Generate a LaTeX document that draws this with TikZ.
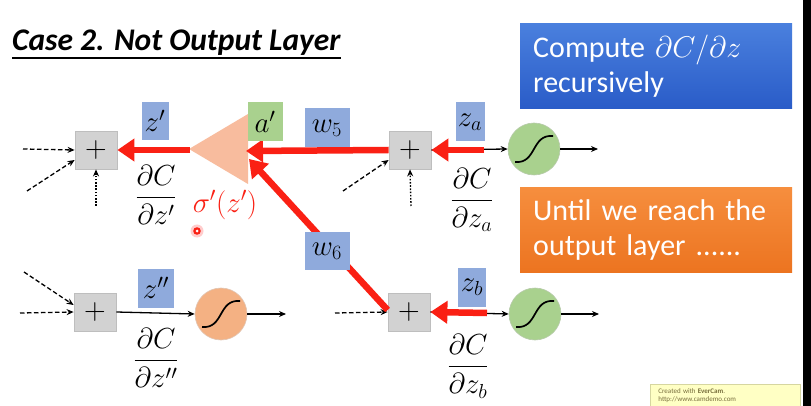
\RequirePackage{fix-cm}
\documentclass[tikz,border=0pt]{standalone}
\usepackage{amsmath}
\usepackage{fontspec}
\setmainfont{Carlito}
\usetikzlibrary{arrows.meta}
\definecolor{redA}{RGB}{250,32,20}
\definecolor{lblue}{RGB}{143,170,220}
\definecolor{lgreen}{RGB}{169,209,142}
\definecolor{lorange}{RGB}{244,177,131}
\definecolor{triC}{RGB}{248,188,158}
\definecolor{boxG}{RGB}{210,210,210}
\definecolor{boxGb}{RGB}{190,190,190}
\definecolor{bTop}{RGB}{74,128,222}
\definecolor{bBot}{RGB}{42,92,200}
\definecolor{oTop}{RGB}{246,142,62}
\definecolor{oBot}{RGB}{236,116,32}
\definecolor{wmY}{RGB}{255,255,196}
\definecolor{wmB}{RGB}{214,214,160}
\definecolor{wmT}{RGB}{120,110,60}
\begin{document}
\begin{tikzpicture}[x=1pt,y=-1pt,
  plusbox/.style={draw=boxGb, fill=boxG, line width=0.8pt, minimum width=42pt, minimum height=38pt, inner sep=0pt, font=\fontsize{30}{30}\selectfont},
  sig/.style={circle, draw=lgreen!80!black!60, line width=0.6pt, minimum size=52pt, inner sep=0pt},
  lbl/.style={fill=lblue, inner sep=0pt, minimum height=38pt, font=\fontsize{29}{29}\selectfont},
  frac/.style={font=\fontsize{29}{32}\selectfont, inner sep=0pt},
  redarr/.style={draw=redA, line width=6.5pt, -{Triangle[length=17pt,width=22pt]}},
  thinarr/.style={draw=black, line width=1.3pt, -{Stealth[length=7pt,width=6pt]}},
  dasharr/.style={thinarr, dash pattern=on 4.5pt off 2.5pt},
  dotarr/.style={thinarr, dash pattern=on 1.6pt off 1.6pt},
  textbox/.style={anchor=north west, text=white, minimum width=272pt, minimum height=85pt, text width=262pt, inner xsep=0pt, inner ysep=6pt, align=left, font=\fontsize{30}{35}\selectfont}
]
\useasboundingbox (0,0) rectangle (811,406);
\fill[white] (0,0) rectangle (811,406);
\fill[black] (803,0) rectangle (811,406);

% title
\node[anchor=base west, inner sep=0pt, font=\fontsize{31.5}{34}\selectfont\bfseries\itshape] (title) at (12,51) {Case 2. Not Output Layer};
\draw[line width=1.5pt] ([yshift=-7pt]title.base west) -- ([yshift=-7pt]title.base east);

% text boxes
\node[textbox, top color=bTop, bottom color=bBot] (bbox) at (520,23) {\hspace*{8pt}Compute $\partial C/\partial z$\\\hspace*{8pt}recursively};
\node[textbox, top color=oTop, bottom color=oBot] (obox) at (520,187) {\hspace*{8pt}Until we reach the\\\hspace*{8pt}output layer ......};

% triangle (neuron a')
\fill[triC] (189,149) -- (248,114) -- (248,184) -- cycle;
\coordinate (aOut) at (190,150);
\coordinate (aIn1) at (246,151);
\coordinate (aIn2) at (249,159);

% plus boxes and sigmoid circles
\node[plusbox] (p1) at (96,150) {$+$};
\node[plusbox] (p2) at (410,150) {$+$};
\node[plusbox] (p3) at (95,312) {$+$};
\node[plusbox] (p4) at (409,312) {$+$};
\node[sig, fill=lgreen] (s1) at (534,149) {};
\node[sig, fill=lorange, draw=lorange!80!black!50] (s3) at (221,314) {};
\node[sig, fill=lgreen] (s4) at (535,314) {};
\foreach \c in {s1,s3,s4}
  \draw[line width=1.7pt] ([shift={(-19,13)}]\c.center) .. controls ([shift={(3,15)}]\c.center) and ([shift={(-3,-15)}]\c.center) .. ([shift={(19,-13)}]\c.center);

% black forward arrows
\coordinate (o1) at (598,149);
\coordinate (o3) at (286,314);
\coordinate (o4) at (599,314);
\draw[thinarr] (p2.east) -- (s1.west);
\draw[thinarr] (s1.east) -- (o1);
\draw[thinarr] (p3.east) -- (s3.west);
\draw[thinarr] (s3.east) -- (o3);
\draw[thinarr] (p4.east) -- (s4.west);
\draw[thinarr] (s4.east) -- (o4);

% dashed / dotted inputs
\coordinate (d1) at (23,149);
\coordinate (d2) at (27,191);
\coordinate (d3) at (96,206);
\coordinate (d4) at (343,191);
\coordinate (d5) at (411,206);
\coordinate (d6) at (20,313);
\coordinate (d7) at (24,272);
\coordinate (d8) at (335,313);
\draw[dasharr] (d1) -- (p1.west);
\draw[dasharr] (d2) -- ([yshift=-10pt]p1.west);
\draw[dotarr] (d3) -- (p1.south);
\draw[dasharr] (d4) -- ([yshift=-10pt]p2.west);
\draw[dotarr] (d5) -- (p2.south);
\draw[dasharr] (d6) -- (p3.west);
\draw[dasharr] (d7) -- ([yshift=7pt]p3.west);
\draw[dasharr] (d8) -- (p4.west);

% red backward arrows
\coordinate (za0) at (484,150);
\coordinate (zb0) at (487,313);
\draw[redarr] (aOut) -- (p1.east);
\draw[redarr] (p2.west) -- (aIn1);
\draw[redarr] ([yshift=2pt]p4.west) -- (aIn2);
\draw[redarr] (za0) -- (p2.east);
\draw[redarr] (zb0) -- (p4.east);

% labels
\node[lbl, minimum width=27pt] (lz1) at (155,121) {$z'$};
\node[lbl, fill=lgreen, minimum width=35pt, minimum height=39pt] (la) at (265,122) {$a'$};
\node[lbl, minimum width=45pt, minimum height=39pt] (lw5) at (327,128) {$w_5$};
\node[lbl, minimum width=45pt] (lw6) at (327,251) {$w_6$};
\node[lbl, minimum width=29pt, minimum height=39pt] (lza) at (470,122) {$z_a$};
\node[lbl, minimum width=36pt, minimum height=39pt] (lz2) at (156,288) {$z''$};
\node[lbl, minimum width=28pt, minimum height=39pt] (lzb) at (472,287) {$z_b$};

% fractions
\node[frac] (f1) at (156,195) {$\dfrac{\partial C}{\partial z'}$};
\node[frac] (fa) at (472,200) {$\dfrac{\partial C}{\partial z_a}$};
\node[frac] (f2) at (156,358) {$\dfrac{\partial C}{\partial z''}$};
\node[frac] (fb) at (468,366) {$\dfrac{\partial C}{\partial z_b}$};

\node[frac, text=redA] (sg) at (225,205) {$\sigma'(z')$};

% pointer dot
\fill[red!20] (197,231) circle (6.5pt);
\fill[redA] (197,231) circle (3.8pt);
\fill[white] (197,231) circle (1.5pt);

% watermark
\node[anchor=north west, draw=wmB, fill=wmY, line width=0.8pt, minimum width=150pt, minimum height=23pt, inner xsep=2pt, inner ysep=1pt, text=wmT, align=left, font=\fontsize{7}{8.5}\selectfont, text width=140pt] (wm) at (650,383.5) {\hspace*{3pt}Created with \textbf{EverCam}.\\\hspace*{3pt}http://www.camdemo.com};
\end{tikzpicture}
\end{document}
